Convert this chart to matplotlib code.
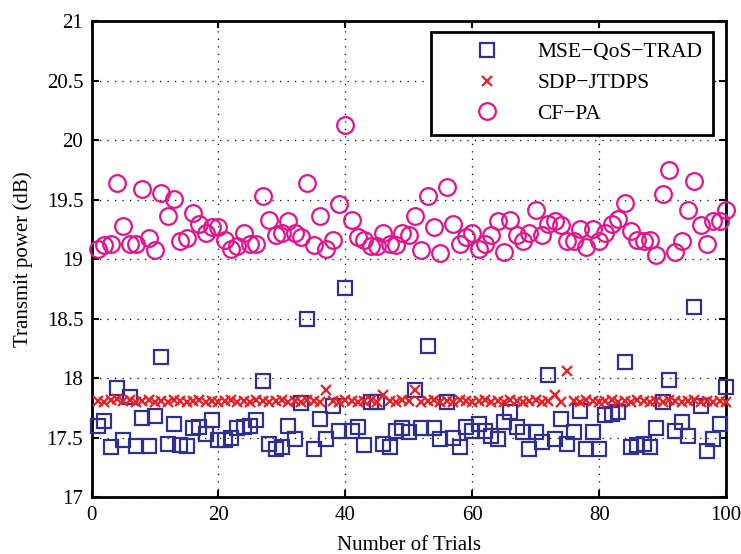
import numpy as np
import matplotlib.pyplot as plt

# 数据
trials = np.arange(1, 101)

mse_qos_trad = [17.60, 17.64, 17.42, 17.92, 17.48, 17.84, 17.43, 17.67, 17.43, 17.68,
                18.18, 17.45, 17.62, 17.44, 17.43, 17.58, 17.59, 17.53, 17.65, 17.48,
                17.48, 17.50, 17.58, 17.59, 17.60, 17.65, 17.98, 17.45, 17.41, 17.42,
                17.60, 17.49, 17.79, 18.50, 17.41, 17.66, 17.49, 17.77, 17.56, 18.76,
                17.56, 17.59, 17.44, 17.80, 17.80, 17.45, 17.42, 17.56, 17.58, 17.55,
                17.90, 17.58, 18.27, 17.58, 17.49, 17.80, 17.50, 17.42, 17.59, 17.56,
                17.62, 17.56, 17.52, 17.49, 17.63, 17.72, 17.59, 17.55, 17.41, 17.55,
                17.47, 18.03, 17.49, 17.66, 17.45, 17.55, 17.73, 17.41, 17.55, 17.41,
                17.69, 17.70, 17.72, 18.14, 17.42, 17.44, 17.45, 17.42, 17.58, 17.80,
                17.99, 17.56, 17.63, 17.52, 18.60, 17.77, 17.39, 17.49, 17.62, 17.93]

sdp_jtdps = [17.81, 17.80, 17.82, 17.83, 17.81, 17.82, 17.80, 17.81, 17.82, 17.80,
             17.81, 17.80, 17.82, 17.81, 17.80, 17.81, 17.82, 17.80, 17.81, 17.80,
             17.81, 17.82, 17.80, 17.81, 17.80, 17.82, 17.81, 17.80, 17.81, 17.82,
             17.80, 17.81, 17.80, 17.82, 17.81, 17.80, 17.90, 17.81, 17.80, 17.82,
             17.81, 17.80, 17.81, 17.82, 17.80, 17.86, 17.81, 17.80, 17.82, 17.81,
             17.90, 17.80, 17.81, 17.82, 17.80, 17.81, 17.80, 17.82, 17.81, 17.80,
             17.81, 17.82, 17.80, 17.81, 17.80, 17.82, 17.81, 17.80, 17.81, 17.82,
             17.80, 17.81, 17.86, 17.80, 18.06, 17.81, 17.80, 17.82, 17.81, 17.80,
             17.81, 17.82, 17.80, 17.81, 17.80, 17.82, 17.81, 17.80, 17.81, 17.80,
             17.82, 17.81, 17.80, 17.81, 17.82, 17.80, 17.81, 17.80, 17.81, 17.80]

cf_pa = [19.09, 19.12, 19.13, 19.64, 19.28, 19.13, 19.13, 19.59, 19.18, 19.08,
         19.56, 19.36, 19.51, 19.15, 19.18, 19.39, 19.30, 19.22, 19.27, 19.27,
         19.16, 19.09, 19.11, 19.22, 19.13, 19.13, 19.53, 19.33, 19.20, 19.22,
         19.32, 19.22, 19.19, 19.64, 19.12, 19.36, 19.09, 19.16, 19.46, 20.13,
         19.33, 19.19, 19.16, 19.11, 19.11, 19.22, 19.13, 19.12, 19.22, 19.20,
         19.36, 19.08, 19.53, 19.27, 19.05, 19.61, 19.30, 19.13, 19.19, 19.22,
         19.09, 19.13, 19.20, 19.32, 19.06, 19.33, 19.20, 19.15, 19.22, 19.41,
         19.20, 19.30, 19.32, 19.29, 19.15, 19.15, 19.25, 19.10, 19.25, 19.15,
         19.22, 19.30, 19.34, 19.47, 19.24, 19.16, 19.15, 19.16, 19.04, 19.55,
         19.75, 19.06, 19.15, 19.41, 19.66, 19.29, 19.13, 19.32, 19.32, 19.41]

labels = ['MSE\u2212QoS\u2212TRAD', 'SDP\u2212JTDPS', 'CF\u2212PA']

plt.rcParams['font.family'] = ['Liberation Serif', 'DejaVu Serif']

fig = plt.figure(figsize=(7.41, 5.54), dpi=100)
ax = fig.add_axes([0.1235, 0.102, 0.8563, 0.860])

# 作图
ax.plot(trials, mse_qos_trad, ls='none', marker='s', ms=9.5, mfc='none',
        mec='#2e3192', mew=1.6, label=labels[0], clip_on=False, zorder=3)
ax.plot(trials, sdp_jtdps, ls='none', marker='x', ms=6.5,
        mec='#f01e23', mew=1.6, label=labels[1], clip_on=False, zorder=3)
ax.plot(trials, cf_pa, ls='none', marker='o', ms=12, mfc='none',
        mec='#e6118c', mew=1.6, label=labels[2], clip_on=False, zorder=3)

# 坐标轴区间与刻度
ax.set_xlim(0, 100)
ax.set_ylim(17, 21)
ax.set_xticks(range(0, 101, 20))
ax.set_yticks(np.arange(17, 21.01, 0.5))
ax.set_yticklabels(['17', '17.5', '18', '18.5', '19', '19.5', '20', '20.5', '21'])
ax.tick_params(axis='both', direction='in', length=5, width=1.5,
               top=True, right=True, labelsize=15, pad=6)
for s in ax.spines.values():
    s.set_linewidth(2)

ax.grid(True, color='black', linestyle=(0, (1, 5)), linewidth=0.9)

ax.set_xlabel('Number of Trials', fontsize=15, labelpad=8)
ax.set_ylabel('Transmit power (dB)', fontsize=15, labelpad=10)

leg = ax.legend(loc='upper right', bbox_to_anchor=(0.98, 0.978), fontsize=15.5,
                fancybox=False, edgecolor='black', framealpha=1,
                borderaxespad=0, handlelength=4.2, handletextpad=0.25,
                labelspacing=0.5, borderpad=0.5)
leg.get_frame().set_linewidth(2)
leg.set_zorder(5)

plt.savefig('out.png', dpi=100)
